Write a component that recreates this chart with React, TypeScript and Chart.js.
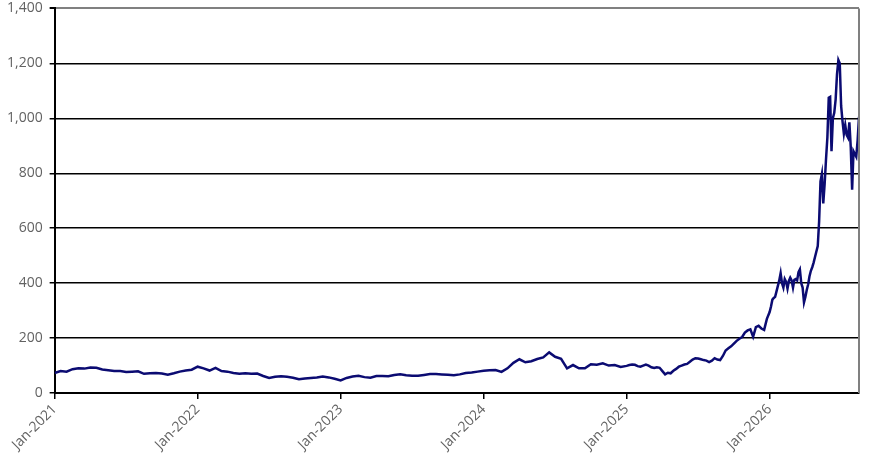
import { useEffect, useRef } from "react"
import { Chart, registerables } from "chart.js"

Chart.register(...registerables)

// tick years on the x axis
const years = [2021, 2022, 2023, 2024, 2025, 2026]

// twice-monthly readings 2021-2024
const prices2021 = [73, 80, 78, 87, 90, 89, 93, 92, 86, 83, 80, 80, 77, 78, 79, 70, 72, 73, 71, 67, 72, 78, 82, 85]
const prices2022 = [96, 90, 82, 92, 80, 78, 73, 70, 72, 70, 71, 62, 55, 59, 61, 59, 56, 50, 53, 55, 57, 60, 57, 52]
const prices2023 = [46, 55, 60, 63, 58, 56, 62, 62, 61, 66, 68, 65, 63, 63, 66, 69, 69, 68, 67, 65, 68, 73, 75, 78]
const prices2024 = [81, 83, 84, 77, 90, 110, 123, 112, 116, 124, 130, 148, 132, 125, 90, 102, 90, 90, 105, 103, 108, 100, 102, 95]

// weekly readings 2025
const prices2025 = [
  99, 102, 104, 103, 98, 96, 100, 104, 100, 94, 91, 94, 92, 80, 68, 74, 72, 81, 88, 96, 100, 104, 106, 114, 122, 127,
  126, 123, 120, 118, 113, 118, 127, 122, 120, 135, 155, 163, 170, 180, 190, 198, 204, 220, 228, 232, 205, 240, 245,
  235, 230, 270,
]

// half-weekly readings 2026
const prices2026 = [
  295, 315, 340, 346, 350, 370, 390, 410, 436, 400, 384, 415, 405, 380, 408, 420, 410, 384, 412, 415, 410, 440, 450,
  400, 384, 330, 350, 375, 395, 425, 445, 458, 475, 495, 515, 535, 625, 770, 797, 690, 760, 850, 930, 1075, 1078, 880,
  1000, 1020, 1068, 1160, 1212, 1200, 1045, 990, 944, 975, 940, 930, 985, 895, 740, 880, 870, 860, 920, 1005,
]

const yTicks = [0, 200, 400, 600, 800, 1000, 1200, 1400]

const series: Array<{ year: number; values: number[]; perYear: number }> = [
  { year: 2021, values: prices2021, perYear: 24 },
  { year: 2022, values: prices2022, perYear: 24 },
  { year: 2023, values: prices2023, perYear: 24 },
  { year: 2024, values: prices2024, perYear: 24 },
  { year: 2025, values: prices2025, perYear: 52 },
  { year: 2026, values: prices2026, perYear: 104 },
]

const points = series.flatMap((s) => s.values.map((v, i) => ({ x: s.year + i / s.perYear, y: v })))

const tickFont = { family: "'Open Sans', 'DejaVu Sans', sans-serif", size: 14 }
const tickColor = "#626262"

// gray frame on the right side of the plot
const framePlugin = {
  id: "frame",
  afterDraw(chart: Chart) {
    const { ctx, chartArea } = chart
    ctx.save()
    ctx.strokeStyle = "#808080"
    ctx.lineWidth = 2
    ctx.beginPath()
    ctx.moveTo(chartArea.right, chartArea.top)
    ctx.lineTo(chartArea.right, chartArea.bottom)
    ctx.stroke()
    ctx.restore()
  },
}

function PriceChart() {
  const chartRef = useRef<HTMLCanvasElement>(null)
  const chartInstance = useRef<Chart | null>(null)

  useEffect(() => {
    if (!chartRef.current) return
    if (chartInstance.current) chartInstance.current.destroy()
    const ctx = chartRef.current.getContext("2d")
    if (!ctx) return

    chartInstance.current = new Chart(ctx, {
      type: "line",
      data: {
        datasets: [
          {
            data: points,
            borderColor: "#0b0b72",
            borderWidth: 2.5,
            pointRadius: 0,
            tension: 0,
          },
        ],
      },
      options: {
        responsive: true,
        maintainAspectRatio: false,
        animation: false,
        layout: { padding: { left: 0, right: 24, top: 0, bottom: 12 } },
        plugins: { legend: { display: false }, tooltip: { enabled: false } },
        scales: {
          x: {
            type: "linear",
            min: 2021,
            max: points[points.length - 1].x,
            afterBuildTicks: (scale) => {
              scale.ticks = years.map((y) => ({ value: y }))
            },
            ticks: {
              font: tickFont,
              color: tickColor,
              minRotation: 45,
              maxRotation: 45,
              padding: 2,
              callback: (v) => `Jan-${v}`,
            },
            grid: { drawOnChartArea: false, drawTicks: true, tickLength: 6, color: "#000", lineWidth: 1.5 },
            border: { color: "#000", width: 2 },
          },
          y: {
            min: 0,
            max: 1400,
            afterBuildTicks: (scale) => {
              scale.ticks = yTicks.map((v) => ({ value: v }))
            },
            ticks: {
              font: tickFont,
              color: tickColor,
              padding: 7,
              callback: (v) => Number(v).toLocaleString("en-US"),
            },
            grid: {
              color: (c) => (c.tick && c.tick.value === 1400 ? "#808080" : "#000"),
              lineWidth: (c) => (c.tick && c.tick.value === 1400 ? 2 : 1.5),
              tickLength: 5,
              tickColor: "#000",
            },
            border: { color: "#000", width: 2 },
          },
        },
      },
      plugins: [framePlugin],
    })

    return () => {
      if (chartInstance.current) {
        chartInstance.current.destroy()
        chartInstance.current = null
      }
    }
  }, [])

  return <canvas ref={chartRef} />
}

export default function App() {
  // shifted up a little so the plot top sits where the reference has it
  return (
    <div style={{ position: "absolute", left: 0, top: -7, width: 883, height: 474, background: "#fff" }}>
      <PriceChart />
    </div>
  )
}
